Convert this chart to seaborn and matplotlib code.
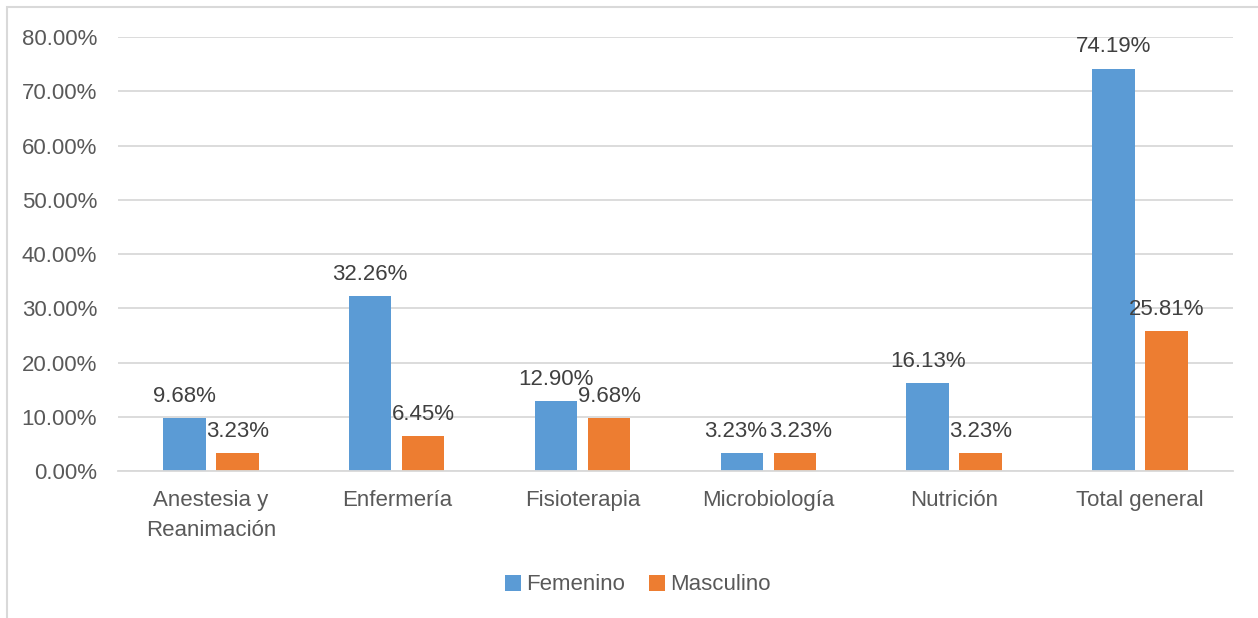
import seaborn as sns
import pandas as pd
import matplotlib.pyplot as plt
from matplotlib.ticker import PercentFormatter
from matplotlib.patches import Rectangle

categorias = ["Anestesia y\nReanimación", "Enfermería", "Fisioterapia",
              "Microbiología", "Nutrición", "Total general"]
femenino = [9.68, 32.26, 12.90, 3.23, 16.13, 74.19]
masculino = [3.23, 6.45, 9.68, 3.23, 3.23, 25.81]
series = ["Femenino", "Masculino"]
colores = ["#5B9BD5", "#ED7D31"]

df = pd.DataFrame({
    "categoria": categorias * 2,
    "sexo": [series[0]] * len(categorias) + [series[1]] * len(categorias),
    "valor": femenino + masculino,
})

sns.set_theme(style="white")
plt.rcParams["font.family"] = ["Liberation Sans", "DejaVu Sans"]

fig = plt.figure(figsize=(12.58, 6.18), dpi=100)
ax = fig.add_axes([0.0938, 0.2379, 0.8862, 0.7021])

sns.barplot(data=df, x="categoria", y="valor", hue="sexo", palette=colores,
            width=0.57, gap=0.2, ax=ax, legend=True, saturation=1,
            edgecolor="none", linewidth=0, errorbar=None)

# etiquetas de datos; las de Microbiología se separan un poco
for k, cont in enumerate(ax.containers):
    anns = ax.bar_label(cont, labels=[f"{v:.2f}%" for v in cont.datavalues],
                        padding=8, fontsize=16, color="#404040")
    dx = -4.5 if k == 0 else 4.5
    anns[3].xyann = (dx, 8)

ax.set_ylim(0, 80)
ax.set_yticks(range(0, 81, 10))
ax.yaxis.set_major_formatter(PercentFormatter(decimals=2))
ax.grid(axis="y", color="#D9D9D9", linewidth=1.3)
ax.set_axisbelow(True)
for s in ["top", "right", "left"]:
    ax.spines[s].set_visible(False)
ax.spines["bottom"].set_color("#D9D9D9")
ax.spines["bottom"].set_linewidth(1.3)
ax.set_xlabel("")
ax.set_ylabel("")
ax.tick_params(axis="y", labelsize=16, labelcolor="#595959", pad=15, length=0)
ax.tick_params(axis="x", labelsize=16, labelcolor="#595959", pad=14, length=0)
for t in ax.get_xticklabels():
    t.set_linespacing(1.55)

handles, labels = ax.get_legend_handles_labels()
ax.get_legend().remove()
fig.legend(handles, labels, loc="center", bbox_to_anchor=(638 / 1258, 1 - 585 / 618),
           ncol=2, frameon=False, fontsize=16, labelcolor="#595959",
           handlelength=0.7, handleheight=0.7, handletextpad=0.25, columnspacing=1.1)

fig.patches.append(Rectangle((7 / 1258, -0.1), 1.2, 1 - 7 / 618 + 0.1,
                             transform=fig.transFigure, fill=False,
                             edgecolor="#D9D9D9", linewidth=1.5))

fig.savefig("out.png", dpi=100)
